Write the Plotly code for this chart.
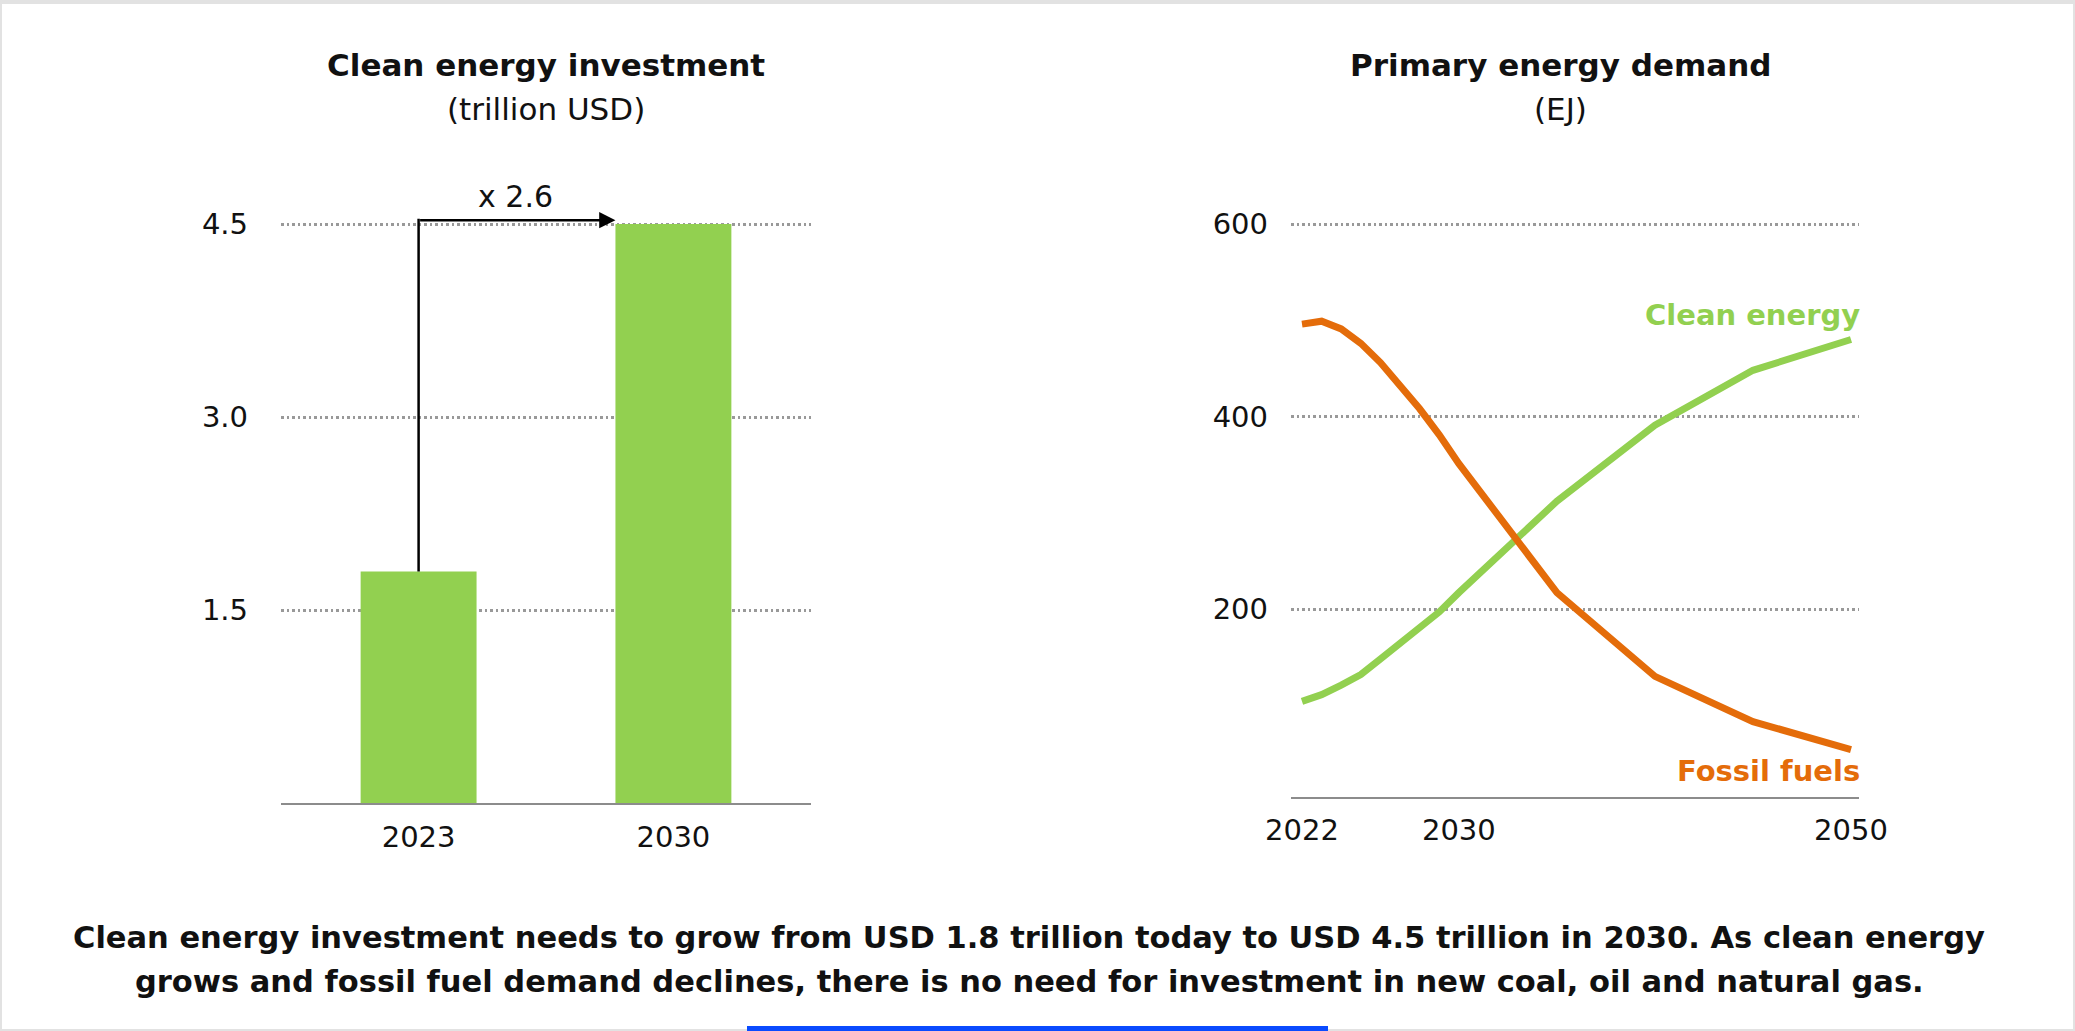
import plotly.graph_objects as go

W, H = 2075, 1031

# Clean energy investment (trillion USD)
invest_years = ["2023", "2030"]
invest_values = [1.8, 4.5]
invest_ticks = [1.5, 3.0, 4.5]
invest_tick_text = ["1.5", "3.0", "4.5"]
growth_label = "x 2.6"

# Primary energy demand (EJ)
demand_years = [2022, 2023, 2024, 2025, 2026, 2027, 2028, 2029, 2030, 2035, 2040, 2045, 2050]
clean_energy = [104, 111, 121, 132, 148, 164, 180, 197, 217, 312, 391, 448, 480]
fossil_fuels = [496, 499, 491, 476, 456, 433, 408, 381, 351, 217, 130, 83, 54]
demand_ticks = [200, 400, 600]
demand_year_ticks = [2022, 2030, 2050]

caption_lines = [
    "Clean energy investment needs to grow from USD 1.8 trillion today to USD 4.5 trillion in 2030. As clean energy",
    "grows and fossil fuel demand declines, there is no need for investment in new coal, oil and natural gas.",
]

GREEN = "#92D050"
ORANGE = "#E46C0A"
GRID = "#999999"
AXIS = "#8c8c8c"
INK = "#111111"
FONT = "DejaVu Sans"
BAR_WIDTH = 0.455


def fx(px):
    """Horizontal page pixel -> paper fraction."""
    return px / W


def fy(px):
    """Vertical page pixel (from top) -> paper fraction."""
    return 1 - px / H


fig = go.Figure()

fig.add_trace(go.Bar(
    x=invest_years, y=invest_values, width=BAR_WIDTH,
    marker=dict(color=GREEN, line=dict(width=0)),
    xaxis="x", yaxis="y", hoverinfo="skip",
))

fig.add_trace(go.Scatter(
    x=demand_years, y=clean_energy, mode="lines",
    line=dict(color=GREEN, width=7),
    xaxis="x2", yaxis="y2", hoverinfo="skip",
))
fig.add_trace(go.Scatter(
    x=demand_years, y=fossil_fuels, mode="lines",
    line=dict(color=ORANGE, width=7),
    xaxis="x2", yaxis="y2", hoverinfo="skip",
))

tick_font = dict(family=FONT, size=29, color=INK)
grid_style = dict(showgrid=True, gridcolor=GRID, gridwidth=2.5, griddash="2.5px,3px")

fig.update_layout(
    width=W, height=H, autosize=False,
    margin=dict(l=0, r=0, t=0, b=0),
    paper_bgcolor="white", plot_bgcolor="white",
    showlegend=False,
    font=dict(family=FONT, color=INK),
    xaxis=dict(
        domain=[fx(281), fx(811)], type="category", range=[-0.54, 1.54],
        showline=True, linecolor=AXIS, linewidth=2, showgrid=False, zeroline=False,
        ticks="", tickfont=tick_font, ticklabelstandoff=7, automargin=False,
        anchor="y", fixedrange=True,
    ),
    yaxis=dict(
        domain=[fy(803), fy(185.4)], range=[0, 4.8],
        tickvals=invest_ticks, ticktext=invest_tick_text,
        showline=False, zeroline=False, ticks="", tickfont=tick_font,
        ticklabelstandoff=32, automargin=False, anchor="x", fixedrange=True,
        **grid_style,
    ),
    xaxis2=dict(
        domain=[fx(1291), fx(1859)], range=[2021.439, 2050.408],
        tickvals=demand_year_ticks,
        showline=True, linecolor=AXIS, linewidth=2, showgrid=False, zeroline=False,
        ticks="", tickfont=tick_font, ticklabelstandoff=6, automargin=False,
        anchor="y2", fixedrange=True,
    ),
    yaxis2=dict(
        domain=[fy(797), fy(185.5)], range=[4.7, 640],
        tickvals=demand_ticks,
        showline=False, zeroline=False, ticks="", tickfont=tick_font,
        ticklabelstandoff=22, automargin=False, anchor="x2", fixedrange=True,
        **grid_style,
    ),
)

# Growth arrow: up from the 2023 bar, then across to the 2030 bar
arrow_y = invest_values[1] + 0.03
fig.add_shape(
    type="line", xref="x", yref="y",
    x0=0, x1=0, y0=invest_values[0], y1=arrow_y + 0.01,
    line=dict(color="black", width=2.5),
)
fig.add_annotation(
    xref="x", yref="y", axref="x", ayref="y",
    x=1 - BAR_WIDTH / 2, y=arrow_y, ax=0, ay=arrow_y,
    text="", showarrow=True, arrowhead=2, arrowsize=1.3,
    arrowwidth=2.5, arrowcolor="black", standoff=0, startstandoff=0,
)
fig.add_annotation(
    xref="paper", yref="paper", x=fx(515), y=fy(197),
    text=growth_label, showarrow=False, xanchor="center", yanchor="middle",
    font=dict(family=FONT, size=30, color=INK),
)

# Panel titles
titles = [
    (545.5, "<b>Clean energy investment</b>", "(trillion USD)"),
    (1560, "<b>Primary energy demand</b>", "(EJ)"),
]
for cx, title, unit in titles:
    fig.add_annotation(
        xref="paper", yref="paper", x=fx(cx), y=fy(65),
        text=title, showarrow=False, xanchor="center", yanchor="middle",
        font=dict(family=FONT, size=31, color=INK),
    )
    fig.add_annotation(
        xref="paper", yref="paper", x=fx(cx), y=fy(109),
        text=unit, showarrow=False, xanchor="center", yanchor="middle",
        font=dict(family=FONT, size=31, color=INK),
    )

# Series labels
fig.add_annotation(
    xref="paper", yref="paper", x=fx(1862), y=fy(315),
    text="<b>Clean energy</b>", showarrow=False, xanchor="right", yanchor="middle",
    font=dict(family=FONT, size=29, color=GREEN),
)
fig.add_annotation(
    xref="paper", yref="paper", x=fx(1862), y=fy(771),
    text="<b>Fossil fuels</b>", showarrow=False, xanchor="right", yanchor="middle",
    font=dict(family=FONT, size=29, color=ORANGE),
)

# Caption
for line, cy in zip(caption_lines, [937, 981]):
    fig.add_annotation(
        xref="paper", yref="paper", x=fx(1029), y=fy(cy),
        text=f"<b>{line}</b>", showarrow=False, xanchor="center", yanchor="middle",
        font=dict(family=FONT, size=30.5, color=INK),
    )

# Page frame and bottom indicator bar
fig.add_shape(type="rect", xref="paper", yref="paper", x0=0, x1=1, y0=0, y1=1,
              line=dict(color="#e2e2e2", width=4), layer="above")
fig.add_shape(type="rect", xref="paper", yref="paper", x0=0, x1=1, y0=fy(4), y1=1,
              line=dict(width=0), fillcolor="#e2e2e2", layer="above")
fig.add_shape(type="rect", xref="paper", yref="paper", x0=fx(747), x1=fx(1328),
              y0=0, y1=fy(1026), line=dict(width=0), fillcolor="#0a4bff", layer="above")

fig.write_html("out.html", config={"displayModeBar": False})
